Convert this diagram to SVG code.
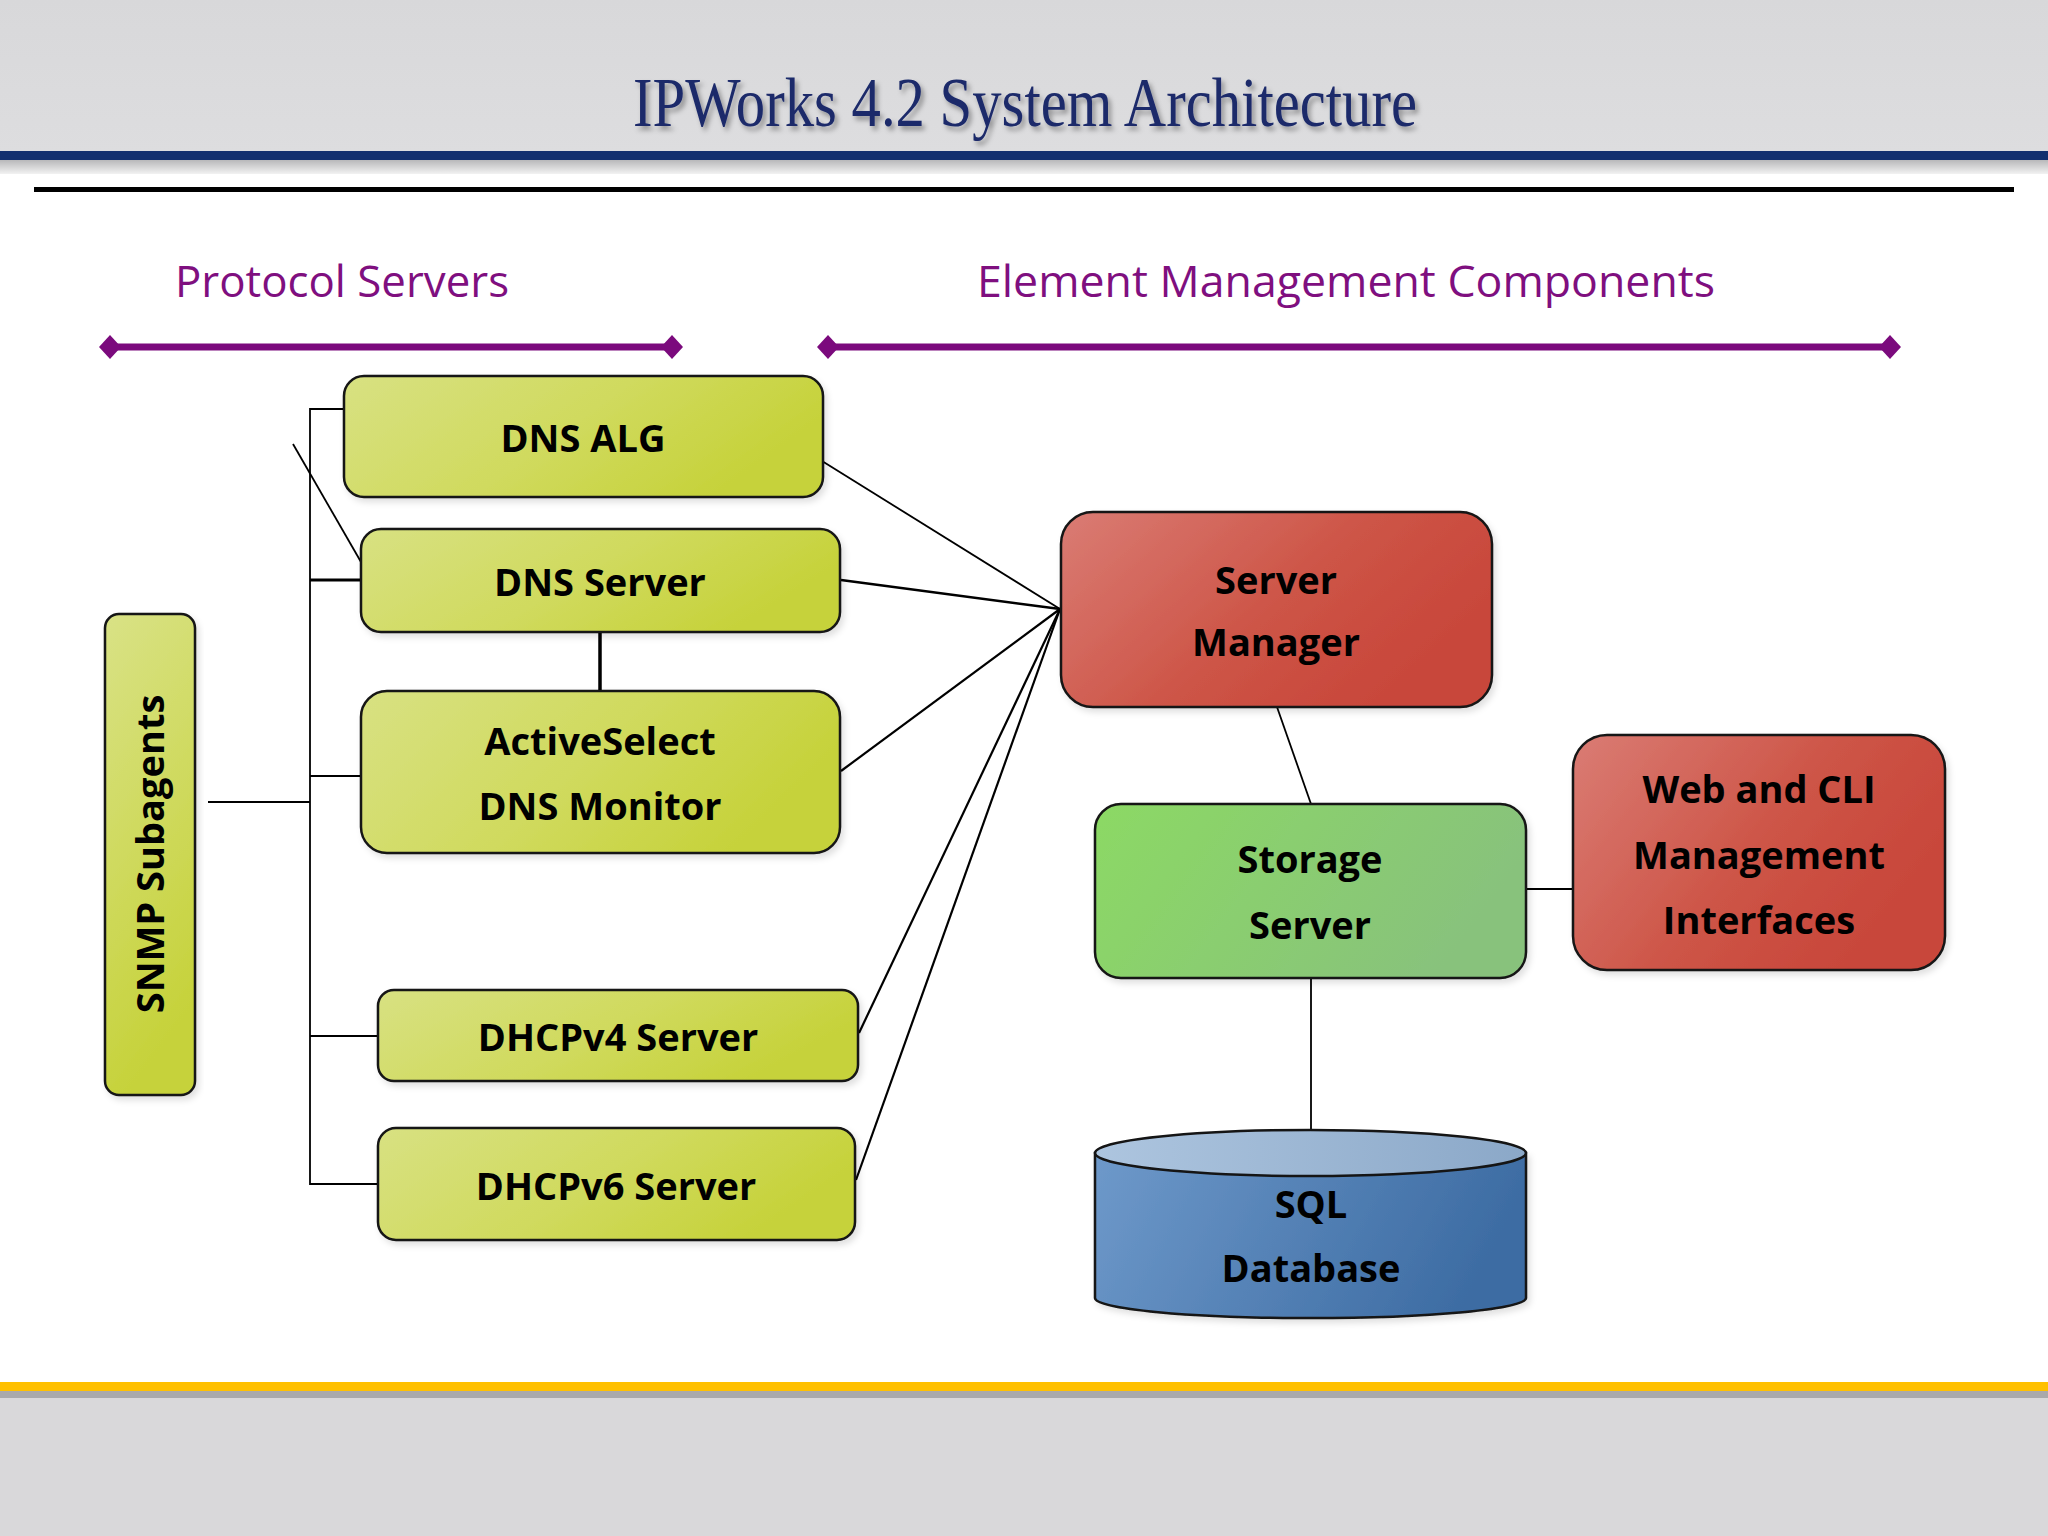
<svg xmlns="http://www.w3.org/2000/svg" width="2048" height="1536" viewBox="0 0 2048 1536">
<defs>
<linearGradient id="topBand" x1="0" y1="0" x2="0" y2="1">
<stop offset="0" stop-color="#D8D8DA"/><stop offset="1" stop-color="#DDDDDF"/>
</linearGradient>
<linearGradient id="shadowTop" x1="0" y1="0" x2="0" y2="1">
<stop offset="0" stop-color="#B8B8BA"/><stop offset="1" stop-color="#F2F2F2"/>
</linearGradient>
<linearGradient id="greenG" x1="0" y1="0" x2="1" y2="0.35">
<stop offset="0" stop-color="#D8E182"/><stop offset="0.55" stop-color="#D0DA5E"/><stop offset="1" stop-color="#C6D23A"/>
</linearGradient>
<linearGradient id="greenV" x1="0" y1="0" x2="0.25" y2="1">
<stop offset="0" stop-color="#D9E286"/><stop offset="1" stop-color="#C6D23A"/>
</linearGradient>
<linearGradient id="redG" x1="0" y1="0" x2="1" y2="0.5">
<stop offset="0" stop-color="#DA7C74"/><stop offset="0.6" stop-color="#CD5446"/><stop offset="1" stop-color="#C8463A"/>
</linearGradient>
<linearGradient id="storG" x1="0" y1="0" x2="1" y2="0.3">
<stop offset="0" stop-color="#8CD964"/><stop offset="1" stop-color="#88C27C"/>
</linearGradient>
<linearGradient id="cylG" x1="0" y1="0" x2="1" y2="0.2">
<stop offset="0" stop-color="#6E99CA"/><stop offset="1" stop-color="#3D6CA3"/>
</linearGradient>
<linearGradient id="cylTop" x1="0" y1="0" x2="1" y2="0">
<stop offset="0" stop-color="#ADC5DF"/><stop offset="1" stop-color="#8BA8C8"/>
</linearGradient>
<filter id="ts" x="-5%" y="-20%" width="110%" height="150%">
<feDropShadow dx="3" dy="4" stdDeviation="2.5" flood-color="#000" flood-opacity="0.35"/>
</filter>
<filter id="bs" x="-5%" y="-5%" width="115%" height="120%">
<feDropShadow dx="3" dy="4" stdDeviation="3" flood-color="#000" flood-opacity="0.12"/>
</filter>
</defs>
<style>
.box{stroke:#151515;stroke-width:2.5}
.lbl{font-family:"Open Sans","Liberation Sans",sans-serif;font-weight:bold;font-size:38px;fill:#000;text-anchor:middle}
.sec{font-family:"Open Sans","Liberation Sans",sans-serif;font-size:44px;fill:#7F0F7F}
.conn line,.conn polyline{stroke:#000;fill:none;stroke-width:1.8}
.pur{stroke:#7B0A7D;stroke-width:7}
</style>

<!-- background -->
<rect x="0" y="0" width="2048" height="1536" fill="#FFFFFF"/>
<rect x="0" y="0" width="2048" height="152" fill="url(#topBand)"/>
<rect x="0" y="160" width="2048" height="14" fill="url(#shadowTop)"/>
<rect x="0" y="151" width="2048" height="9" fill="#13306F"/>
<rect x="34" y="187" width="1980" height="5" fill="#000"/>
<rect x="0" y="1391" width="2048" height="145" fill="#D9D8DA"/>
<rect x="0" y="1391" width="2048" height="7" fill="#A9A9AB"/>
<rect x="0" y="1382" width="2048" height="9" fill="#FFC000"/>

<text x="1025" y="126" font-family="'Liberation Serif','DejaVu Serif',serif" font-size="70" fill="#1C2A6A" text-anchor="middle" textLength="784" lengthAdjust="spacingAndGlyphs" filter="url(#ts)">IPWorks 4.2 System Architecture</text>

<!-- section headers -->
<g id="hdr-protocol">
<text class="sec" x="175" y="297" textLength="334" lengthAdjust="spacingAndGlyphs">Protocol Servers</text>
<line class="pur" x1="108" y1="347" x2="674" y2="347"/>
<polygon points="99,347 110,335 121,347 110,359" fill="#7B0A7D"/>
<polygon points="661,347 672,335 683,347 672,359" fill="#7B0A7D"/>
</g>
<g id="hdr-element">
<text class="sec" x="977" y="297" textLength="738" lengthAdjust="spacingAndGlyphs">Element Management Components</text>
<line class="pur" x1="826" y1="347" x2="1892" y2="347"/>
<polygon points="817,347 828,335 839,347 828,359" fill="#7B0A7D"/>
<polygon points="1879,347 1890,335 1901,347 1890,359" fill="#7B0A7D"/>
</g>

<!-- connectors -->
<g id="connectors" class="conn">
<polyline points="344,409 310,409 310,1184 378,1184"/>
<line x1="310" y1="580" x2="361" y2="580" style="stroke-width:3"/>
<line x1="310" y1="776" x2="361" y2="776"/>
<line x1="208" y1="802" x2="310" y2="802"/>
<line x1="310" y1="1036" x2="378" y2="1036"/>
<line x1="293" y1="444" x2="361" y2="562"/>
<line x1="600" y1="632" x2="600" y2="691" style="stroke-width:3.5"/>
<line x1="822" y1="461" x2="1060" y2="609"/>
<line x1="841" y1="580" x2="1060" y2="609" style="stroke-width:2.5"/>
<line x1="841" y1="771" x2="1060" y2="609" style="stroke-width:2.2"/>
<line x1="859" y1="1033" x2="1060" y2="609" style="stroke-width:2.2"/>
<line x1="856" y1="1180" x2="1060" y2="609" style="stroke-width:2.2"/>
<line x1="1277" y1="707" x2="1311" y2="804"/>
<line x1="1524" y1="889" x2="1573" y2="889"/>
<line x1="1311" y1="978" x2="1311" y2="1129"/>
</g>

<!-- nodes -->
<g id="snmp">
<rect class="box" x="105" y="614" width="90" height="481" rx="14" fill="url(#greenV)" filter="url(#bs)"/>
<text class="lbl" transform="translate(164,854) rotate(-90)" x="0" y="0">SNMP Subagents</text>
</g>
<g id="dns-alg">
<rect class="box" x="344" y="376" width="479" height="121" rx="20" fill="url(#greenG)" filter="url(#bs)"/>
<text class="lbl" x="583" y="452">DNS ALG</text>
</g>
<g id="dns-server">
<rect class="box" x="361" y="529" width="479" height="103" rx="20" fill="url(#greenG)" filter="url(#bs)"/>
<text class="lbl" x="600" y="596">DNS Server</text>
</g>
<g id="activeselect">
<rect class="box" x="361" y="691" width="479" height="162" rx="26" fill="url(#greenG)" filter="url(#bs)"/>
<text class="lbl" x="600" y="755">ActiveSelect</text>
<text class="lbl" x="600" y="820">DNS Monitor</text>
</g>
<g id="dhcpv4">
<rect class="box" x="378" y="990" width="480" height="91" rx="16" fill="url(#greenG)" filter="url(#bs)"/>
<text class="lbl" x="618" y="1051">DHCPv4 Server</text>
</g>
<g id="dhcpv6">
<rect class="box" x="378" y="1128" width="477" height="112" rx="18" fill="url(#greenG)" filter="url(#bs)"/>
<text class="lbl" x="616" y="1200">DHCPv6 Server</text>
</g>
<g id="server-manager">
<rect class="box" x="1061" y="512" width="431" height="195" rx="32" fill="url(#redG)" filter="url(#bs)"/>
<text class="lbl" x="1276" y="594">Server</text>
<text class="lbl" x="1276" y="656">Manager</text>
</g>
<g id="storage-server">
<rect class="box" x="1095" y="804" width="431" height="174" rx="26" fill="url(#storG)" filter="url(#bs)"/>
<text class="lbl" x="1310" y="873">Storage</text>
<text class="lbl" x="1310" y="939">Server</text>
</g>
<g id="web-cli">
<rect class="box" x="1573" y="735" width="372" height="235" rx="34" fill="url(#redG)" filter="url(#bs)"/>
<text class="lbl" x="1759" y="803">Web and CLI</text>
<text class="lbl" x="1759" y="869">Management</text>
<text class="lbl" x="1759" y="934">Interfaces</text>
</g>
<g id="sql-db">
<path class="box" d="M1095,1153 L1095,1298 A215.5,20 0 0 0 1526,1298 L1526,1153 Z" fill="url(#cylG)" filter="url(#bs)"/>
<ellipse class="box" cx="1310.5" cy="1153" rx="215.5" ry="23" fill="url(#cylTop)"/>
<text class="lbl" x="1311" y="1218">SQL</text>
<text class="lbl" x="1311" y="1282">Database</text>
</g>
</svg>
